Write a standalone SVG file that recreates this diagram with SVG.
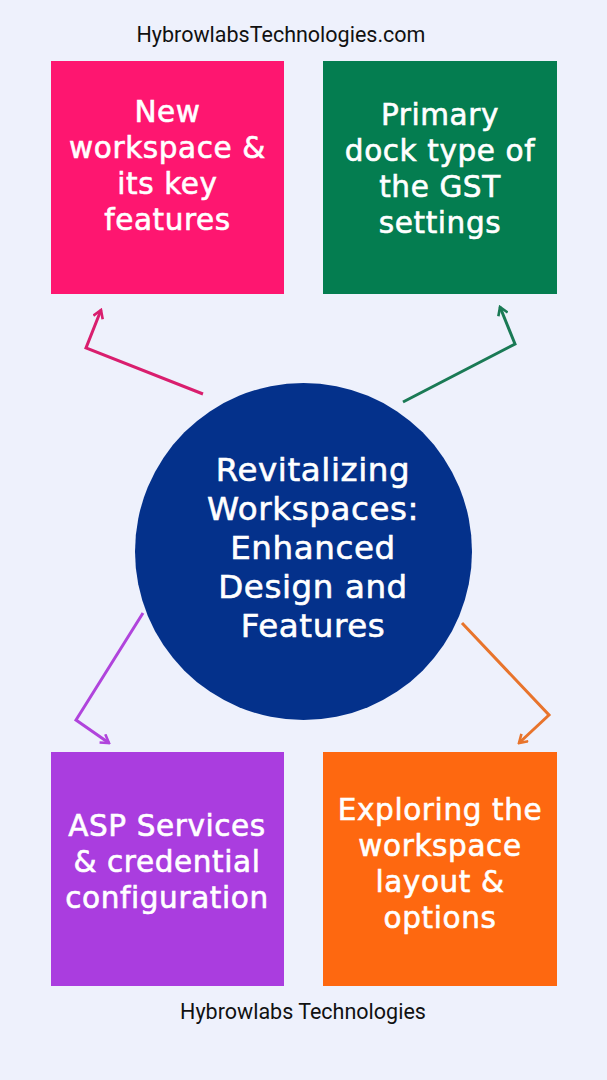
<svg xmlns="http://www.w3.org/2000/svg" width="607" height="1080" viewBox="0 0 607 1080">
<defs>
<style>
.box-text{font-family:"DejaVu Sans","Open Sans",sans-serif;font-size:29.5px;letter-spacing:0.6px;fill:#ffffff;stroke:#ffffff;stroke-width:0.6px;text-anchor:middle}
.circle-text{font-family:"DejaVu Sans","Open Sans",sans-serif;font-size:32.5px;letter-spacing:0.6px;fill:#ffffff;stroke:#ffffff;stroke-width:0.6px;text-anchor:middle}
.brand{font-family:Roboto,"Liberation Sans",sans-serif;font-size:21.5px;fill:#111111;text-anchor:middle}
.conn{fill:none;stroke-width:3;stroke-linejoin:miter;stroke-linecap:butt}
</style>
<marker id="ah-pink" viewBox="0 0 12 12" refX="10" refY="6" markerWidth="12" markerHeight="12" markerUnits="userSpaceOnUse" orient="auto"><path d="M2,1 L10,6 L2,11" fill="none" stroke="#d91e6e" stroke-width="2.6"/></marker>
<marker id="ah-green" viewBox="0 0 12 12" refX="10" refY="6" markerWidth="12" markerHeight="12" markerUnits="userSpaceOnUse" orient="auto"><path d="M2,1 L10,6 L2,11" fill="none" stroke="#1a7a55" stroke-width="2.6"/></marker>
<marker id="ah-purple" viewBox="0 0 12 12" refX="10" refY="6" markerWidth="12" markerHeight="12" markerUnits="userSpaceOnUse" orient="auto"><path d="M2,1 L10,6 L2,11" fill="none" stroke="#b044dc" stroke-width="2.6"/></marker>
<marker id="ah-orange" viewBox="0 0 12 12" refX="10" refY="6" markerWidth="12" markerHeight="12" markerUnits="userSpaceOnUse" orient="auto"><path d="M2,1 L10,6 L2,11" fill="none" stroke="#e8742c" stroke-width="2.6"/></marker>
</defs>
<rect x="0" y="0" width="607" height="1080" fill="#eef1fc"/>
<text class="brand" x="281" y="42">HybrowlabsTechnologies.com</text>
<text class="brand" x="303" y="1019">Hybrowlabs Technologies</text>
<g id="connectors">
<path class="conn" d="M203,394 L86,348 L101,310" stroke="#d91e6e" marker-end="url(#ah-pink)"/>
<path class="conn" d="M403,402 L515,344 L500,307" stroke="#1a7a55" marker-end="url(#ah-green)"/>
<path class="conn" d="M143,613 L76,720 L109,743" stroke="#b044dc" marker-end="url(#ah-purple)"/>
<path class="conn" d="M462,623 L549,715 L519,743" stroke="#e8742c" marker-end="url(#ah-orange)"/>
</g>
<g id="node-new-workspace">
<rect x="51" y="61" width="233" height="233" fill="#fe1670"/>
<text class="box-text"><tspan x="167.5" y="122">New</tspan><tspan x="167.5" y="158">workspace &amp;</tspan><tspan x="167.5" y="194">its key</tspan><tspan x="167.5" y="230">features</tspan></text>
</g>
<g id="node-primary-dock">
<rect x="323" y="61" width="234" height="233" fill="#047d50"/>
<text class="box-text"><tspan x="440" y="125">Primary</tspan><tspan x="440" y="161">dock type of</tspan><tspan x="440" y="197">the GST</tspan><tspan x="440" y="233">settings</tspan></text>
</g>
<g id="node-center">
<circle cx="303.5" cy="551.5" r="168.5" fill="#04318b"/>
<text class="circle-text"><tspan x="313" y="481">Revitalizing</tspan><tspan x="313" y="520">Workspaces:</tspan><tspan x="313" y="559">Enhanced</tspan><tspan x="313" y="598">Design and</tspan><tspan x="313" y="637">Features</tspan></text>
</g>
<g id="node-asp-services">
<rect x="51" y="752" width="233" height="234" fill="#aa3ddf"/>
<text class="box-text"><tspan x="167" y="836">ASP Services</tspan><tspan x="167" y="872">&amp; credential</tspan><tspan x="167" y="908">configuration</tspan></text>
</g>
<g id="node-exploring">
<rect x="323" y="752" width="234" height="234" fill="#fe6810"/>
<text class="box-text"><tspan x="440" y="820">Exploring the</tspan><tspan x="440" y="856">workspace</tspan><tspan x="440" y="892">layout &amp;</tspan><tspan x="440" y="928">options</tspan></text>
</g>
</svg>
